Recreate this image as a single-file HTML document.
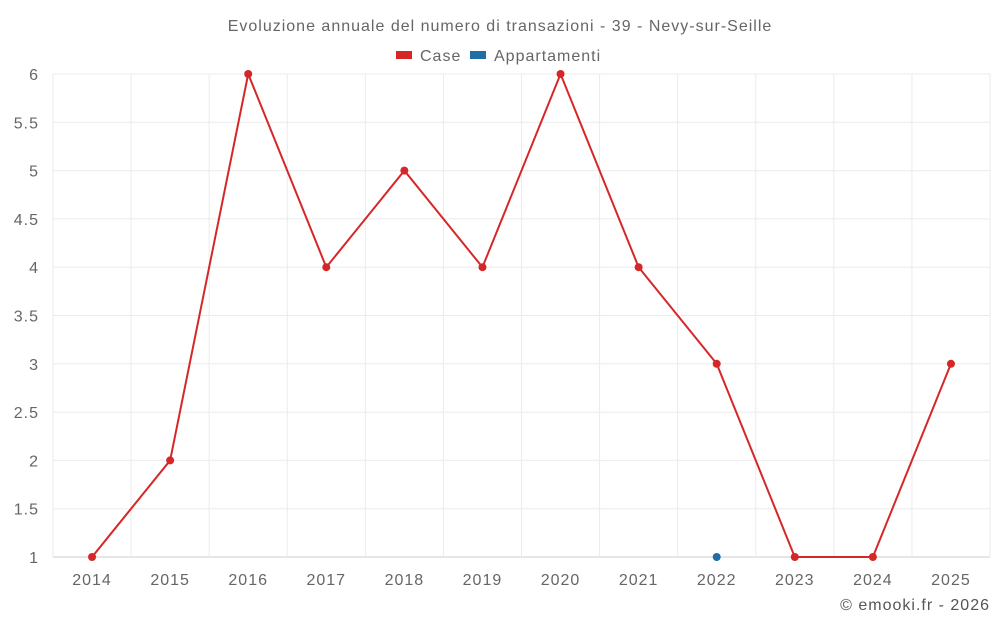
<!DOCTYPE html>
<html><head><meta charset="utf-8"><style>
html,body{margin:0;padding:0;background:#fff;}
svg{display:block;font-family:"Liberation Sans",sans-serif;}
svg text{letter-spacing:1px;}
</style></head><body>
<svg id="chart" width="1000" height="625">
<text x="500" y="31" text-anchor="middle" font-size="16" fill="#666">Evoluzione annuale del numero di transazioni - 39 - Nevy-sur-Seille</text>
<g>
<g><rect x="396" y="51" width="16" height="8" fill="#d62728"/><text x="420" y="61" font-size="16" fill="#666">Case</text></g>
<g><rect x="470" y="51" width="16" height="8" fill="#1f6fa5"/><text x="494" y="61" font-size="16" fill="#666">Appartamenti</text></g>
</g>
<g id="grid"></g>
<g id="axes"></g>
<g id="series"></g>
<text x="990" y="610" text-anchor="end" font-size="16" fill="#555">© emooki.fr - 2026</text>
</svg>
<script>
const years=["2014","2015","2016","2017","2018","2019","2020","2021","2022","2023","2024","2025"];
const caseValues=[1,2,6,4,5,4,6,4,3,1,1,3];
const appYears=["2022"];
const appValues=[1];
const yTicks=[1,1.5,2,2.5,3,3.5,4,4.5,5,5.5,6];
const yTickLabels=["1","1.5","2","2.5","3","3.5","4","4.5","5","5.5","6"];

const L=53,R=990,T=74,B=557,yMin=1,yMax=6;
const bw=(R-L)/years.length;
const xS=y=>L+bw*(years.indexOf(y)+0.5);
const yS=v=>B-(v-yMin)/(yMax-yMin)*(B-T);
const NS="http://www.w3.org/2000/svg";
function mk(tag,attrs,parent){const e=document.createElementNS(NS,tag);for(const k in attrs)e.setAttribute(k,attrs[k]);parent.appendChild(e);return e;}
const grid=document.getElementById('grid'),axes=document.getElementById('axes'),series=document.getElementById('series');
yTicks.forEach((t,i)=>{
  const l=mk('line',{x1:L,x2:R,y1:yS(t),y2:yS(t),stroke:i===0?'#ccc':'#ebebeb','stroke-width':1},grid);
  
  
  const tx=mk('text',{x:L-14,y:yS(t)+6,'text-anchor':'end','font-size':16,fill:'#666'},axes);
  tx.textContent=yTickLabels[i];
  
  
});
for(let i=0;i<=years.length;i++){
  const l=mk('line',{x1:L+bw*i,x2:L+bw*i,y1:T,y2:B,stroke:'#ebebeb','stroke-width':1},grid);
  
  
}
years.forEach(y=>{
  const tx=mk('text',{x:xS(y),y:B+28,'text-anchor':'middle','font-size':16,fill:'#666'},axes);
  tx.textContent=y;
  
  
});
const pts=years.map((y,i)=>xS(y)+','+yS(caseValues[i])).join(' ');
const pl=mk('polyline',{points:pts,fill:'none',stroke:'#d62728','stroke-width':2},series);


years.forEach((y,i)=>{
  const c=mk('circle',{cx:xS(y),cy:yS(caseValues[i]),r:4,fill:'#d62728'},series);
  
  
});
appYears.forEach((y,i)=>{
  const c=mk('circle',{cx:xS(y),cy:yS(appValues[i]),r:4,fill:'#1f6fa5'},series);
  
  
});
</script>
</body></html>
